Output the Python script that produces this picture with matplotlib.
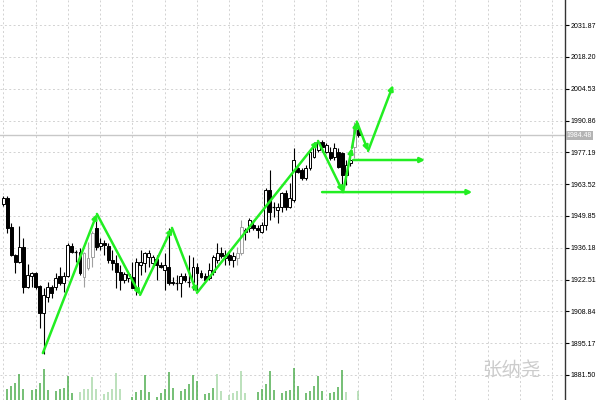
"""Gold candlestick chart with zigzag wave arrows and volume (MT4 style)."""
import numpy as np
import matplotlib
matplotlib.use("Agg")
import matplotlib.pyplot as plt
from matplotlib.transforms import blended_transform_factory

# ---- data ----
opens = [1955.0, 1957.6, 1945.1, 1933.0, 1930.0, 1936.5, 1919.4, 1924.0, 1925.3, 1919.8,
         1908.2, 1915.0, 1919.4, 1919.4, 1924.0, 1921.1, 1924.0, 1936.9, 1934.3, 1934.3,
         1923.6, 1927.5, 1932.2, 1944.7, 1936.9, 1938.2, 1936.9, 1930.9, 1929.6, 1925.7,
         1922.3, 1923.2, 1923.6, 1918.1, 1928.8, 1929.6, 1932.2, 1929.6, 1931.3, 1928.8,
         1926.6, 1927.9, 1921.5, 1921.1, 1921.1, 1924.0, 1921.5, 1921.5, 1927.9, 1925.3,
         1924.0, 1923.2, 1925.7, 1930.9, 1933.9, 1931.8, 1933.0, 1930.9, 1931.8, 1933.9,
         1942.9, 1944.7, 1946.0, 1944.7, 1942.9, 1946.0, 1961.0, 1953.7, 1952.4, 1953.7,
         1959.7, 1953.7, 1956.7, 1970.5, 1969.6, 1966.2, 1970.5, 1975.2, 1978.2, 1981.6,
         1977.3, 1977.3, 1975.2, 1977.3, 1976.9, 1967.5, 1972.6, 1979.5, 1986.8]
highs = [1958.4, 1958.4, 1946.8, 1933.5, 1945.5, 1940.4, 1929.2, 1925.7, 1925.7, 1920.2,
         1918.9, 1921.5, 1920.2, 1925.3, 1927.9, 1925.7, 1938.2, 1938.2, 1935.2, 1936.1,
         1934.3, 1938.6, 1943.4, 1949.8, 1940.4, 1939.5, 1938.2, 1935.2, 1933.0, 1928.8,
         1925.7, 1925.3, 1930.0, 1931.8, 1935.2, 1934.3, 1935.2, 1933.0, 1933.0, 1930.0,
         1933.9, 1944.7, 1923.6, 1924.5, 1925.3, 1925.3, 1933.0, 1932.2, 1929.6, 1926.6,
         1925.3, 1929.6, 1933.0, 1938.2, 1936.5, 1935.2, 1934.3, 1934.3, 1936.5, 1948.1,
         1944.7, 1949.0, 1948.1, 1946.0, 1947.2, 1961.9, 1969.6, 1955.8, 1955.4, 1960.1,
         1961.0, 1964.0, 1979.1, 1970.9, 1970.5, 1971.8, 1978.2, 1981.6, 1982.5, 1982.5,
         1981.2, 1979.5, 1981.2, 1979.1, 1977.3, 1973.9, 1975.2, 1990.2, 1989.8]
lows = [1954.1, 1942.5, 1932.6, 1925.3, 1929.6, 1916.8, 1918.9, 1919.4, 1918.5, 1901.7,
        1890.5, 1912.9, 1914.6, 1918.1, 1920.2, 1917.2, 1923.6, 1933.9, 1930.0, 1924.5,
        1919.4, 1926.6, 1927.9, 1935.2, 1935.2, 1933.0, 1929.6, 1926.6, 1918.9, 1918.1,
        1921.1, 1921.5, 1918.9, 1915.9, 1924.5, 1925.7, 1927.9, 1927.5, 1922.3, 1927.5,
        1918.1, 1920.2, 1920.2, 1918.1, 1915.0, 1921.5, 1919.4, 1918.1, 1917.2, 1923.2,
        1921.5, 1922.3, 1924.5, 1929.6, 1931.8, 1928.8, 1928.8, 1927.9, 1928.8, 1933.0,
        1939.5, 1942.9, 1943.8, 1940.4, 1942.5, 1943.8, 1948.1, 1949.4, 1946.8, 1951.5,
        1952.4, 1953.3, 1955.8, 1968.3, 1965.3, 1965.3, 1969.6, 1974.8, 1977.3, 1977.3,
        1976.9, 1973.9, 1973.9, 1970.5, 1960.1, 1963.2, 1971.3, 1974.8, 1983.8]
closes = [1957.6, 1944.7, 1933.0, 1930.0, 1936.5, 1919.4, 1924.4, 1925.3, 1919.4, 1908.2,
          1915.9, 1919.4, 1916.8, 1923.2, 1921.1, 1924.0, 1937.3, 1934.3, 1934.1, 1925.3,
          1933.9, 1931.8, 1942.5, 1936.5, 1938.2, 1937.3, 1930.9, 1929.6, 1925.7, 1922.3,
          1924.9, 1924.9, 1919.0, 1930.0, 1930.0, 1933.9, 1933.9, 1932.2, 1928.8, 1927.9,
          1928.8, 1921.1, 1921.1, 1921.2, 1924.0, 1922.3, 1921.6, 1927.9, 1925.3, 1923.6,
          1922.3, 1926.6, 1932.2, 1933.9, 1932.6, 1933.0, 1930.9, 1932.6, 1933.9, 1945.1,
          1943.8, 1948.1, 1944.7, 1943.8, 1946.0, 1961.0, 1951.5, 1953.6, 1953.7, 1959.7,
          1953.7, 1957.6, 1973.9, 1968.7, 1966.2, 1970.5, 1977.3, 1980.4, 1981.6, 1979.5,
          1980.4, 1974.8, 1979.1, 1970.9, 1967.5, 1971.8, 1973.9, 1987.7, 1984.5]
volumes = [0, 11, 14, 17, 26, 11, 0, 10, 11, 17,
           31, 10, 0, 9, 11, 12, 24, 7, 0, 8,
           11, 11, 23, 11, 0, 6, 8, 11, 27, 11,
           0, 0, 3, 8, 10, 25, 8, 0, 3, 7,
           11, 28, 12, 0, 9, 11, 16, 25, 19, 0,
           6, 7, 12, 26, 9, 0, 5, 7, 9, 29,
           7, 0, 0, 8, 11, 16, 29, 10, 0, 7,
           9, 10, 32, 14, 0, 7, 9, 14, 24, 9,
           0, 7, 8, 13, 30, 8, 0, 0, 9]
faded_candles = [20, 21, 22, 58, 59, 87]
faded_volumes = [19, 20, 21, 22, 23, 25, 26, 27, 28, 29, 53, 54, 56, 57, 58, 59, 60, 85, 88]

price_ticks = [2031.87, 2018.20, 2004.53, 1990.86, 1977.19, 1963.52,
               1949.85, 1936.18, 1922.51, 1908.84, 1895.17, 1881.50]
bid_price = 1984.48

# zigzag wave (bar index, price)
zz_idx = [9.8, 23.2, 33.9, 41.8, 48.0, 78.0, 84.2, 86.4, 87.6, 90.4, 96.6]
zz_price = [1890.9, 1950.7, 1915.9, 1944.7, 1916.8, 1982.1, 1960.1, 1979.1, 1990.4, 1977.8, 2006.1]
# horizontal target arrows: (start idx, end idx, price)
h_arrows = [(79.0, 116.2, 1960.1), (86.7, 104.5, 1973.9)]

GREEN = "#22ee22"
GRID = "#d2d2d2"

fig = plt.figure(figsize=(6, 4), dpi=100)
ax = fig.add_axes([0, 0, 565 / 600, 1])
ax.set_xlim(-0.82, 139.2)
ax.set_ylim(1870.7, 2042.7)

# volume on its own scale at the bottom
vax = ax.twinx()
vax.set_ylim(0, 400)
vax.axis("off")
x = np.arange(len(closes))
vcol = ["#a9d8a9" if i in faded_volumes else "#4fae4f" for i in x]
vax.vlines(x, 0, volumes, colors=vcol, lw=1.1)

# candles
body_w = 0.72
for i in x:
    o, h, l, c = opens[i], highs[i], lows[i], closes[i]
    edge = "#a0a0a0" if i in faded_candles else "black"
    ax.vlines(i, l, h, color=edge, lw=0.8, zorder=3)
    lo, hi = min(o, c), max(o, c)
    if hi - lo < 0.3:
        ax.hlines(o, i - body_w / 2, i + body_w / 2, color=edge, lw=0.9, zorder=4)
        continue
    fill = "white" if c > o else edge
    ax.bar(i, hi - lo, bottom=lo, width=body_w, color=fill, edgecolor=edge,
           linewidth=0.7, zorder=4)

# zigzag arrows
arrow_kw = dict(arrowstyle="-|>", color=GREEN, lw=1.8, mutation_scale=7,
                shrinkA=0, shrinkB=0)
for j in range(len(zz_idx) - 1):
    ax.annotate("", xy=(zz_idx[j + 1], zz_price[j + 1]),
                xytext=(zz_idx[j], zz_price[j]), arrowprops=arrow_kw, zorder=6)
for x0, x1, p in h_arrows:
    ax.annotate("", xy=(x1, p), xytext=(x0, p), arrowprops=arrow_kw, zorder=6)

# bid line
ax.axhline(bid_price, color="#c8c8c8", lw=1, zorder=2)

# grid + axis
ax.set_xticks(np.arange(0, 137, 8))
ax.set_yticks(price_ticks)
ax.set_yticklabels([f"{p:.2f}" for p in price_ticks])
ax.grid(True, ls=(0, (2, 2.5)), color=GRID, lw=0.7)
ax.set_axisbelow(True)
ax.tick_params(axis="x", length=0, labelbottom=False)
ax.yaxis.tick_right()
ax.tick_params(axis="y", direction="out", length=3, width=0.8, pad=1,
               labelsize=5, colors="black")
for lab in ax.get_yticklabels():
    lab.set_fontfamily("Liberation Sans")
for s in ["top", "left", "bottom"]:
    ax.spines[s].set_visible(False)
ax.spines["right"].set_color("#333333")
ax.spines["right"].set_linewidth(1)

tr = blended_transform_factory(ax.transAxes, ax.transData)
ax.text(1.003, bid_price, f"{bid_price:.2f}", transform=tr, fontsize=5,
        family="Liberation Sans", color="white", va="center", ha="left",
        bbox=dict(boxstyle="square,pad=0.15", fc="#b4b4b4", ec="none"),
        clip_on=False, zorder=7)

fig.text(0.853, 0.075, "张纳尧", fontsize=14, color="#cccccc", ha="center",
         va="center", family=["Noto Sans CJK SC", "DejaVu Sans"])

fig.savefig("out.png", dpi=100)
